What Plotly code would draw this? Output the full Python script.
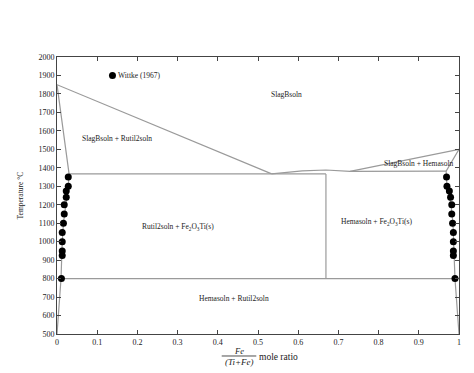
import plotly.graph_objects as go

# ---- data ----
exp_T = [1350, 1300, 1275, 1240, 1200, 1150, 1100, 1050, 1000, 950, 925, 800]
exp_x_left = [0.028, 0.028, 0.023, 0.023, 0.018, 0.018, 0.016, 0.013, 0.013, 0.013, 0.013, 0.011]
exp_x_right = [0.969, 0.970, 0.976, 0.979, 0.982, 0.982, 0.984, 0.986, 0.986, 0.986, 0.986, 0.990]

# phase boundaries
liq_left_x = [0.0, 0.534]
liq_left_T = [1850, 1367]
liq_mid_x = [0.534, 0.61, 0.669, 0.72, 0.729]
liq_mid_T = [1367, 1383, 1388, 1384, 1381]
liq_right_x = [0.729, 1.0]
liq_right_T = [1381, 1500]
solv_left_x = [0.0, 0.030, 0.028, 0.022, 0.016, 0.013, 0.012, 0.010, 0.0]
solv_left_T = [1850, 1367, 1300, 1200, 1100, 1000, 900, 800, 500]
solv_right_x = [1.0, 0.968, 0.970, 0.980, 0.985, 0.987, 0.988, 0.990, 1.0]
solv_right_T = [1500, 1382, 1300, 1200, 1100, 1000, 900, 800, 500]
iso_low_x = [0.030, 0.669]
iso_low_T = [1367, 1367]
iso_high_x = [0.729, 0.968]
iso_high_T = [1381, 1382]
iso_800_x = [0.010, 0.990]
iso_800_T = [800, 800]
vert_x = [0.669, 0.669]
vert_T = [1367, 800]

legend_x = [0.138]
legend_T = [1900]

labels = [
    ("SlagBsoln", 0.57, 1795),
    ("SlagBsoln + Rutil2soln", 0.149, 1556),
    ("Rutil2soln + Fe<sub>2</sub>O<sub>3</sub>Ti(s)", 0.30, 1080),
    ("Hemasoln + Fe<sub>2</sub>O<sub>3</sub>Ti(s)", 0.796, 1107),
    ("SlagBsoln + Hemasoln", 0.90, 1421),
    ("Hemasoln + Rutil2soln", 0.44, 690),
]

x_ticks = [0, 0.1, 0.2, 0.3, 0.4, 0.5, 0.6, 0.7, 0.8, 0.9, 1]
x_ticktext = ["0", "0.1", "0.2", "0.3", "0.4", "0.5", "0.6", "0.7", "0.8", "0.9", "1"]
y_ticks = list(range(500, 2001, 100))

FONT = "Liberation Serif, Times New Roman, serif"
LINE_COL = "#9a9a9a"
TXT = "#222"
LBL = 7.5

fig = go.Figure()

for xs, ys in [(liq_left_x, liq_left_T), (liq_mid_x, liq_mid_T), (liq_right_x, liq_right_T),
               (solv_left_x, solv_left_T), (solv_right_x, solv_right_T),
               (iso_low_x, iso_low_T), (iso_high_x, iso_high_T), (iso_800_x, iso_800_T),
               (vert_x, vert_T)]:
    fig.add_trace(go.Scatter(x=xs, y=ys, mode="lines",
                             line=dict(color=LINE_COL, width=1.2),
                             hoverinfo="skip", showlegend=False))

fig.add_trace(go.Scatter(x=exp_x_left + exp_x_right, y=exp_T + exp_T, mode="markers",
                         marker=dict(color="black", size=7), showlegend=False))
fig.add_trace(go.Scatter(x=legend_x, y=legend_T, mode="markers",
                         marker=dict(color="black", size=7), showlegend=False))

annotations = []
annotations.append(dict(x=legend_x[0], y=legend_T[0], xref="x", yref="y",
                        text="Wittke (1967)", showarrow=False, xanchor="left", yanchor="middle",
                        xshift=4, font=dict(family=FONT, size=LBL, color=TXT)))
for txt, lx, ly in labels:
    annotations.append(dict(x=lx, y=ly, xref="x", yref="y", text=txt, showarrow=False,
                            xanchor="center", yanchor="middle",
                            font=dict(family=FONT, size=LBL, color=TXT)))

# x-axis title as fraction
fx = (239 - 57) / 402
annotations.append(dict(x=fx, y=0, xref="x", yref="paper", yshift=-17, text="<i>Fe</i>",
                        xanchor="center", yanchor="middle",
                        showarrow=False, font=dict(family=FONT, size=8.5, color=TXT)))
annotations.append(dict(x=fx, y=0, xref="x", yref="paper", yshift=-28, text="<i>(Ti+Fe)</i>",
                        xanchor="center", yanchor="middle",
                        showarrow=False, font=dict(family=FONT, size=9, color=TXT)))
annotations.append(dict(x=(257 - 57) / 402, y=0, xref="x", yref="paper", yshift=-23,
                        text="mole ratio", xanchor="left", yanchor="middle",
                        showarrow=False, font=dict(family=FONT, size=9.5, color=TXT)))
# y-axis title
annotations.append(dict(x=0, y=0.5, xref="paper", yref="paper", xshift=-37, text="Temperature °C",
                        xanchor="center", yanchor="middle",
                        textangle=-90, showarrow=False, font=dict(family=FONT, size=7.5, color=TXT)))

fig.update_layout(
    width=474, height=373,
    margin=dict(l=57, r=15, t=57, b=39),
    paper_bgcolor="white", plot_bgcolor="white",
    annotations=annotations,
    shapes=[dict(type="line", xref="x", yref="paper", x0=fx - 0.043, x1=fx + 0.043,
                 y0=-0.0794, y1=-0.0794, line=dict(color=TXT, width=0.8))],
    font=dict(family=FONT, size=8, color=TXT),
)
fig.update_xaxes(range=[0, 1], tickvals=x_ticks, ticktext=x_ticktext, ticks="inside",
                 ticklen=4, tickcolor="#444", showline=True, linecolor="#444", linewidth=1,
                 mirror="ticks", showgrid=False, zeroline=False,
                 tickfont=dict(family=FONT, size=8, color=TXT))
fig.update_yaxes(range=[500, 2000], tickvals=y_ticks, ticks="inside", ticklen=4,
                 tickcolor="#444", showline=True, linecolor="#444", linewidth=1,
                 mirror="ticks", showgrid=False, zeroline=False,
                 tickfont=dict(family=FONT, size=8, color=TXT))

fig.write_html("out.html")
